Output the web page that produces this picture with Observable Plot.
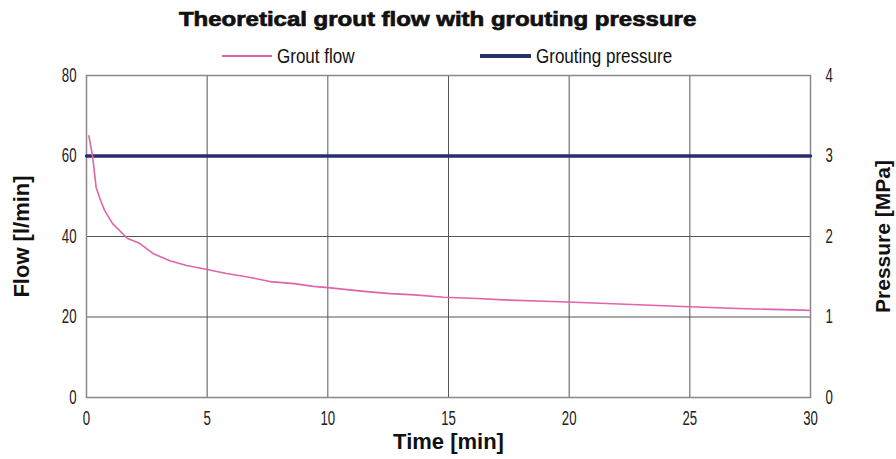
<!DOCTYPE html>
<html>
<head>
<meta charset="utf-8">
<script src="https://cdn.jsdelivr.net/npm/d3@7"></script>
<script src="https://cdn.jsdelivr.net/npm/@observablehq/plot@0.6"></script>
<style>
  html, body { margin: 0; padding: 0; background: #fff; }
  #wrap { position: relative; width: 896px; height: 459px; overflow: hidden; }
  #title { position: absolute; left: -10px; width: 896px; top: 6px; text-align: center;
           font-family: "Liberation Sans", Arial, sans-serif; font-weight: bold; font-size: 20px;
           line-height: 26px; color: #111; }
  #title span { display: inline-block; transform: scaleX(1.2); -webkit-text-stroke: 0.7px #111; }
  .lg-line { position: absolute; }
  .lg-text { position: absolute; font-family: "Liberation Sans", Arial, sans-serif; font-size: 21px;
             line-height: 24px; color: #111; transform-origin: left center; transform: scaleX(0.81); white-space: nowrap; }
  #chart { position: absolute; left: 0; top: 68px; }
  #chart svg { overflow: visible; }
</style>
</head>
<body>
<div id="wrap">
  <div id="title"><span>Theoretical grout flow with grouting pressure</span></div>
  <div id="legend"></div>
  <div id="chart"></div>
</div>
<script>
// ---- data ----
const seriesNames = ["Grout flow", "Grouting pressure"];
const seriesColors = ["#e063ad", "#27306c"];
const time = [0.1, 0.25, 0.4, 0.58, 0.75, 1.08, 1.4, 1.7, 2.2, 2.75, 3.45, 4.15, 5, 5.8, 6.8, 7.6, 8.6, 9.4, 10, 10.8, 11.6, 12.6, 13.6, 14.8, 16.2, 17.5, 19, 20.5, 22.6, 24.7, 27, 29.7, 30];
const flow = [65, 60, 52.2, 49, 46.5, 43.2, 41.3, 39.5, 38.3, 35.8, 34, 32.8, 31.8, 30.8, 29.8, 28.8, 28.3, 27.6, 27.3, 26.8, 26.3, 25.8, 25.5, 24.9, 24.6, 24.2, 23.9, 23.6, 23.1, 22.6, 22.1, 21.7, 21.6];
const pressureTime = [0, 30];
const pressure = [3, 3];
const xTicks = [0, 5, 10, 15, 20, 25, 30];
const flowTicks = [0, 20, 40, 60, 80];
const pressureTicks = [0, 1, 2, 3, 4];
const xLabel = "Time [min]";
const yLabel = "Flow [l/min]";
const y2Label = "Pressure [MPa]";

// ---- legend (HTML) ----
const legend = document.getElementById("legend");
const legendItems = [
  {name: seriesNames[0], color: seriesColors[0], x: 222, w: 50, h: 2},
  {name: seriesNames[1], color: seriesColors[1], x: 480, w: 51, h: 4}
];
for (const it of legendItems) {
  const l = document.createElement("div");
  l.className = "lg-line";
  l.style.cssText = `left:${it.x}px;top:${56 - it.h/2}px;width:${it.w}px;height:${it.h}px;background:${it.color}`;
  legend.appendChild(l);
  const t = document.createElement("div");
  t.className = "lg-text";
  t.textContent = it.name;
  t.style.left = (it.x + it.w + 5) + "px";
  t.style.top = (56 - 12) + "px";
  legend.appendChild(t);
}

// ---- chart ----
const ratio = flowTicks[flowTicks.length - 1] / pressureTicks[pressureTicks.length - 1];
const flowData = time.map((t, i) => ({t, v: flow[i]}));
const pressData = pressureTime.map((t, i) => ({t, v: pressure[i] * ratio}));
const font = "'Liberation Sans', Arial, sans-serif";

const plot = Plot.plot({
  width: 896,
  height: 391,
  marginTop: 7,
  marginBottom: 62,
  marginLeft: 86,
  marginRight: 86,
  style: {fontFamily: font, fontSize: "20px", color: "#222", background: "#fff", overflow: "visible"},
  x: {domain: [0, 30]},
  y: {domain: [0, 80]},
  marks: [
    Plot.gridX(xTicks.slice(1, -1), {stroke: "#555", strokeOpacity: 1, strokeWidth: 1}),
    Plot.gridY(flowTicks.slice(1, -1), {stroke: "#555", strokeOpacity: 1, strokeWidth: 1}),
    Plot.frame({stroke: "#888", strokeWidth: 1.5}),
    Plot.axisX(xTicks, {tickSize: 0, tickPadding: 13, label: null, fill: "#222", fontSize: 20}),
    Plot.axisY(flowTicks, {anchor: "left", tickSize: 0, tickPadding: 10, label: null, fill: "#222", fontSize: 20}),
    Plot.axisY(pressureTicks.map(p => p * ratio), {anchor: "right", tickSize: 0, tickPadding: 15, label: null, tickFormat: d => d / ratio, fill: "#222", fontSize: 20}),
    Plot.line(pressData, {x: "t", y: "v", stroke: seriesColors[1], strokeWidth: 3.5}),
    Plot.line(flowData, {x: "t", y: "v", stroke: seriesColors[0], strokeWidth: 1.6}),
    Plot.text([xLabel], {frameAnchor: "bottom", textAnchor: "middle", dy: 51, fontWeight: "bold", fontSize: 22, fill: "#111"}),
    Plot.text([yLabel], {frameAnchor: "left", textAnchor: "middle", dx: -65, rotate: -90, fontWeight: "bold", fontSize: 22, fill: "#111"}),
    Plot.text([y2Label], {frameAnchor: "right", textAnchor: "middle", dx: 73, rotate: -90, fontWeight: "bold", fontSize: 21, fill: "#111"})
  ]
});
// condense tick labels horizontally like the reference's narrow typeface
plot.querySelectorAll('g[aria-label$="tick label"] text').forEach(t => {
  const tr = t.getAttribute("transform") || "";
  t.setAttribute("transform", tr + " scale(0.66,1)");
});
document.getElementById("chart").appendChild(plot);
</script>
</body>
</html>
